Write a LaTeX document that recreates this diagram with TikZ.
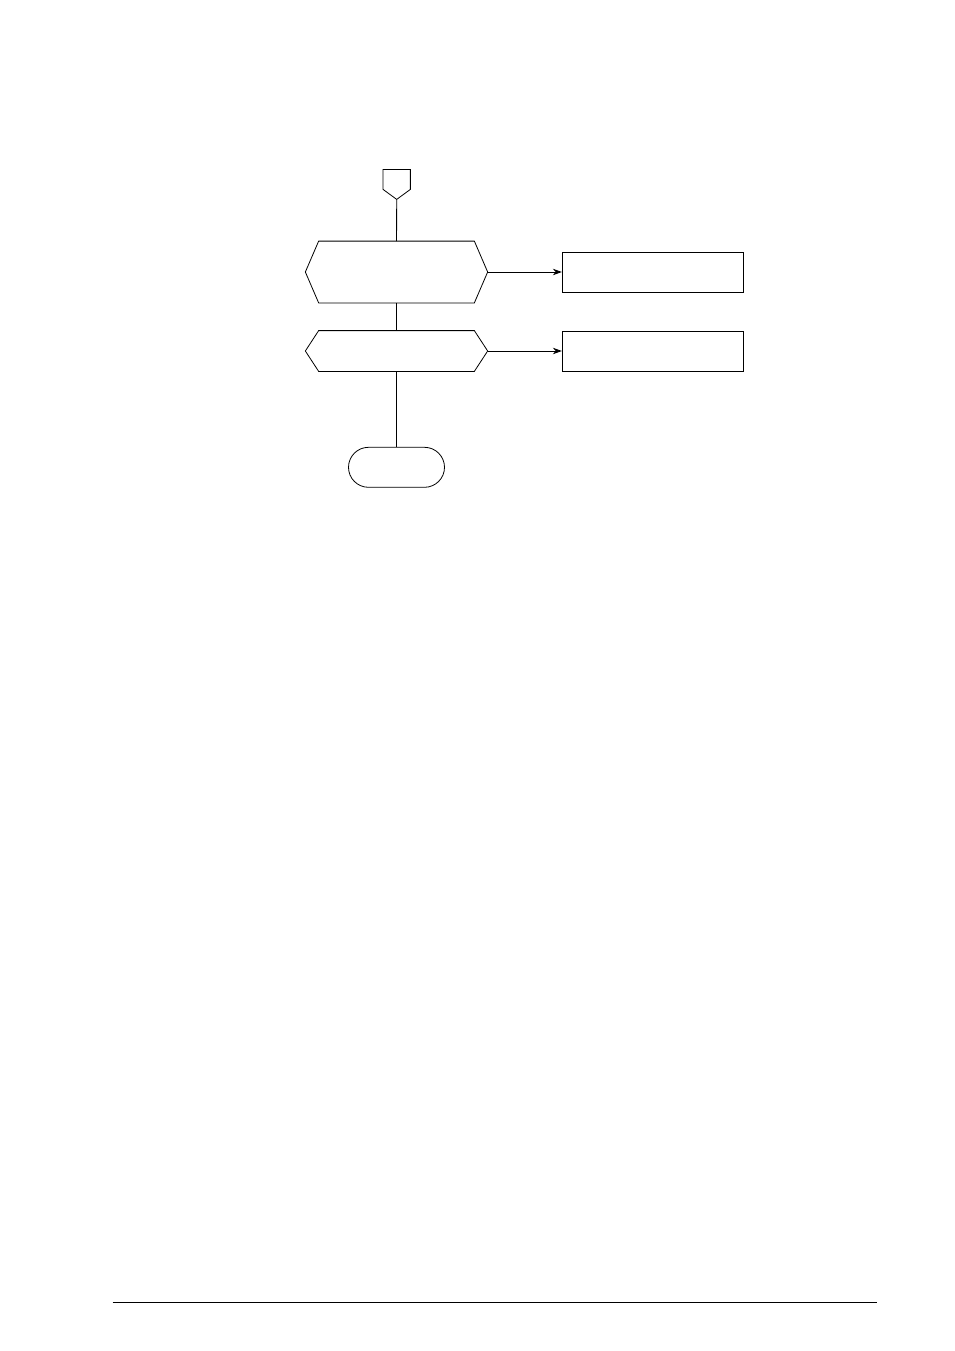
\documentclass[tikz,border=0pt]{standalone}
\usetikzlibrary{arrows.meta}
\begin{document}
\begin{tikzpicture}[x=1pt, y=-1pt, line width=0.8pt,
    blocco/.style={rectangle, inner sep=0pt, minimum width=181.5pt, minimum height=40pt},
    freccia/.style={-{Stealth[length=9pt, width=6.5pt]}}]
    \useasboundingbox (0,0) rectangle (954,1351);

    % Connettore di ingresso
    \node (IN) at (396.7,184.5) [inner sep=0pt, minimum width=26.5pt, minimum height=29pt] {};
    \draw (IN.north west) -- (IN.north east) -- ([yshift=10pt]IN.south east) -- (IN.south) -- ([yshift=10pt]IN.south west) -- cycle;

    % Decisioni
    \node (D1) at (396.5,272) [blocco, minimum height=61pt] {};
    \node (D2) at (396.5,351) [blocco] {};
    \draw (D1.west) -- ([xshift=13.3pt]D1.north west) -- ([xshift=-13.3pt]D1.north east) -- (D1.east) -- ([xshift=-13.3pt]D1.south east) -- ([xshift=13.3pt]D1.south west) -- cycle;
    \draw (D2.west) -- ([xshift=13.3pt]D2.north west) -- ([xshift=-13.3pt]D2.north east) -- (D2.east) -- ([xshift=-13.3pt]D2.south east) -- ([xshift=13.3pt]D2.south west) -- cycle;

    % Azioni
    \node (A1) at (653,272) [blocco, draw] {};
    \node (A2) at (653,351) [blocco, draw] {};

    % Fine
    \node (F) at (396.5,467.3) [rectangle, draw, rounded corners=20pt, minimum width=96pt, minimum height=40pt] {};

    % Collegamenti
    \draw (IN) -- (D1);
    \draw (D1) -- (D2);
    \draw (D2) -- (F);
    \draw[freccia] (D1) -- (A1);
    \draw[freccia] (D2) -- (A2);

    % Riga di fondo pagina
    \draw (112.7,1302.3) -- (876.7,1302.3);
\end{tikzpicture}
\end{document}
